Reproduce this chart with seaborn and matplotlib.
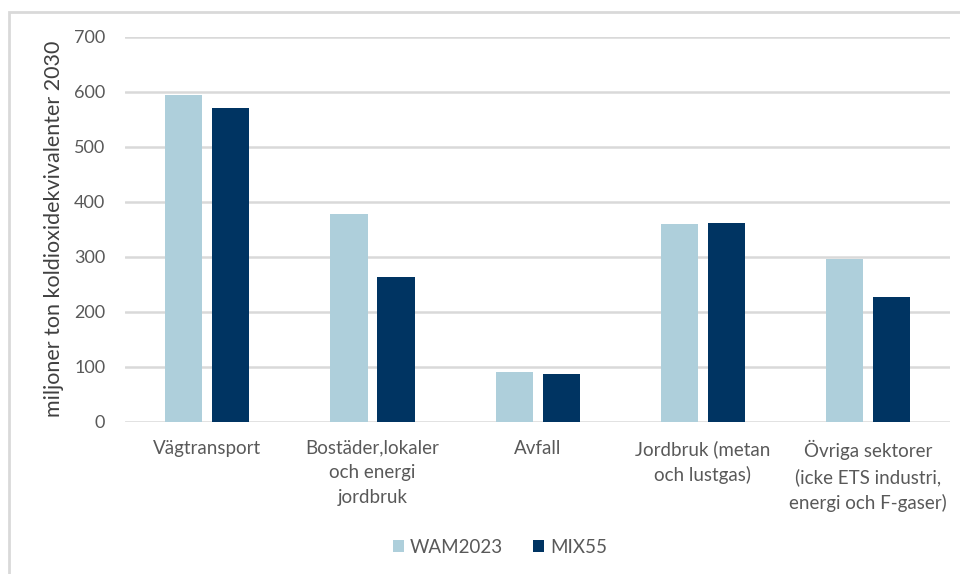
import matplotlib
matplotlib.use("Agg")
import matplotlib.pyplot as plt
import seaborn as sns
import pandas as pd
from matplotlib.patches import Rectangle

categories = [
    "Vägtransport",
    "Bostäder,lokaler\noch energi\njordbruk",
    "Avfall",
    "Jordbruk (metan\noch lustgas)",
    "Övriga sektorer\n(icke ETS industri,\nenergi och F-gaser)",
]
series = ["WAM2023", "MIX55"]
wam2023 = [594, 377, 90, 359, 296]
mix55 = [570, 263, 87, 361, 226]
yticks = [0, 100, 200, 300, 400, 500, 600, 700]
ylabel = "miljoner ton koldioxidekvivalenter 2030"

colors = ["#AECFDB", "#003462"]
text_color = "#595959"

df = pd.DataFrame({
    "sektor": categories * 2,
    "scenario": [series[0]] * len(categories) + [series[1]] * len(categories),
    "varde": wam2023 + mix55,
})

sns.set_theme(style="white")
plt.rcParams["font.family"] = ["Lato", "DejaVu Sans"]

fig = plt.figure(figsize=(9.6, 5.74), dpi=100)
ax = fig.add_axes([0.130, 0.2653, 0.860, 0.6708])

sns.barplot(data=df, x="sektor", y="varde", hue="scenario",
            palette=colors, width=0.569, gap=0.21, ax=ax,
            saturation=1, errorbar=None, linewidth=0)

ax.set_ylim(0, 700)
ax.set_xlim(-0.5, len(categories) - 0.5)
ax.set_yticks(yticks)
ax.set_yticklabels([str(t) for t in yticks], fontsize=13, color=text_color)
ax.tick_params(axis="y", length=0, pad=14)
ax.tick_params(axis="x", length=0, pad=13)
for lbl in ax.get_xticklabels():
    lbl.set_fontsize(13.5)
    lbl.set_color(text_color)
    lbl.set_linespacing(1.55)
    lbl.set_verticalalignment("top")

ax.yaxis.grid(True, color="#D9D9D9", linewidth=1.8)
ax.set_axisbelow(True)
for s in ax.spines.values():
    s.set_visible(False)

ax.set_xlabel("")
ax.set_ylabel(ylabel, fontsize=15.5, color="#404040")
ax.yaxis.set_label_coords(-0.074, 0.5)

handles, labels = ax.get_legend_handles_labels()
ax.legend(handles, labels, loc="center", bbox_to_anchor=(0.521, 0.047),
          bbox_transform=fig.transFigure, ncol=2, frameon=False,
          fontsize=13.5, labelcolor=text_color, handlelength=0.6,
          handleheight=0.6, handletextpad=0.3, columnspacing=1.6)

# chart area outline
fig.patches.append(Rectangle((9 / 960, -0.05), 1.2, 1 - 12 / 574 + 0.05,
                             transform=fig.transFigure, fill=False,
                             edgecolor="#D9D9D9", linewidth=2))

fig.savefig("out.png", dpi=100)
